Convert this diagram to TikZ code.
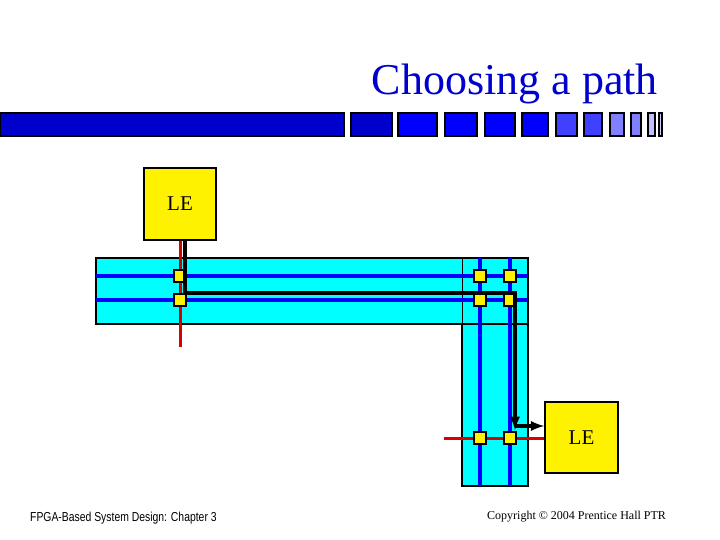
\documentclass[tikz,border=0pt]{standalone}
\usepackage{fontspec}
\setmainfont{Liberation Serif}
\newfontfamily\narrowfont{Liberation Sans}
\usetikzlibrary{positioning}
\definecolor{titleblue}{RGB}{0,0,204}
\definecolor{aqua}{RGB}{0,255,255}
\definecolor{pureblue}{RGB}{0,0,255}
\tikzset{
  lebox/.style={draw, line width=1.5pt, fill=yellow, minimum size=72pt, inner sep=0pt, font=\fontsize{21}{21}\selectfont},
  switchbox/.style={draw, line width=1.5pt, fill=yellow, minimum size=12pt, inner sep=0pt},
  track/.style={pureblue, line width=3.5pt},
  redwire/.style={red!85!black, line width=3pt},
  route/.style={line width=3.5pt, -latex}
}
\begin{document}
\begin{tikzpicture}[x=1pt, y=-1pt]
  \useasboundingbox (0,0) rectangle (720,540);
  \def\barA{398/437, 445/477, 485/515, 522/548}
  \def\barB{556/577, 584/602}

  % title and bar
  \node[anchor=base east, text=titleblue, font=\fontsize{44}{44}\selectfont, inner sep=0pt] (title) at (658,95) {Choosing a path};
  \draw[line width=1.5pt, fill=titleblue] (0,113) rectangle (344,136);
  \draw[line width=1.5pt, fill=titleblue] (351,113) rectangle (392,136);
  \foreach \a/\b in \barA {\draw[line width=1.5pt, fill=pureblue] (\a,113) rectangle (\b,136);}
  \foreach \a/\b in \barB {\draw[line width=1.5pt, fill=pureblue!75] (\a,113) rectangle (\b,136);}
  \draw[line width=1.5pt, fill=pureblue!50] (610,113) rectangle (624,136);
  \draw[line width=1.5pt, fill=pureblue!50] (631,113) rectangle (641,136);
  \draw[line width=1.5pt, fill=pureblue!25] (648,113) rectangle (655,136);
  \draw[line width=1.5pt, fill=pureblue!20] (659,113) rectangle (662,136);

  % channels
  \draw[line width=1.5pt, fill=aqua] (96,258) rectangle (528,324);
  \draw[line width=1.5pt, fill=aqua] (462,324) rectangle (528,486);
  \draw[line width=1pt] (462,258) -- (462,324) -- (528,324);
  \foreach \y in {276,300} {\draw[track] (96,\y) -- (528,\y);}
  \foreach \x in {480,510} {\draw[track] (\x,258) -- (\x,486);}

  % logic elements
  \node[lebox] (le1) at (180,204) {LE};
  \node[lebox, minimum width=73pt, minimum height=71pt] (le2) at (581.5,437.5) {LE};
  \coordinate (stub1) at (180,347);
  \coordinate (stub2) at (444,438);
  \draw[redwire] (le1.south) -- (stub1);
  \draw[redwire] (stub2) -- (le2.west |- stub2);

  % switches
  \foreach \name/\x/\y in {sa/180/276, sb/180/300, sc/480/276, sd/510/276, se/480/300, sf/510/300, sg/480/438, sh/510/438}
    {\node[switchbox] (\name) at (\x,\y) {};}

  % chosen route
  \draw[route] (185,240) -- (185,293) -- (515,293) -- (515,430);
  \draw[route] (515,426) -- (le2.west |- 0,426);

  % footer
  \node[anchor=base west, font=\narrowfont\fontsize{13}{13}\selectfont, xscale=0.8, inner sep=0pt] (foot1) at (30,521) {FPGA-Based System Design: Chapter 3};
  \node[anchor=base west, font=\fontsize{12}{12}\selectfont, inner sep=0pt] (foot2) at (487,519) {Copyright \textcopyright{} 2004 Prentice Hall PTR};
\end{tikzpicture}
\end{document}
